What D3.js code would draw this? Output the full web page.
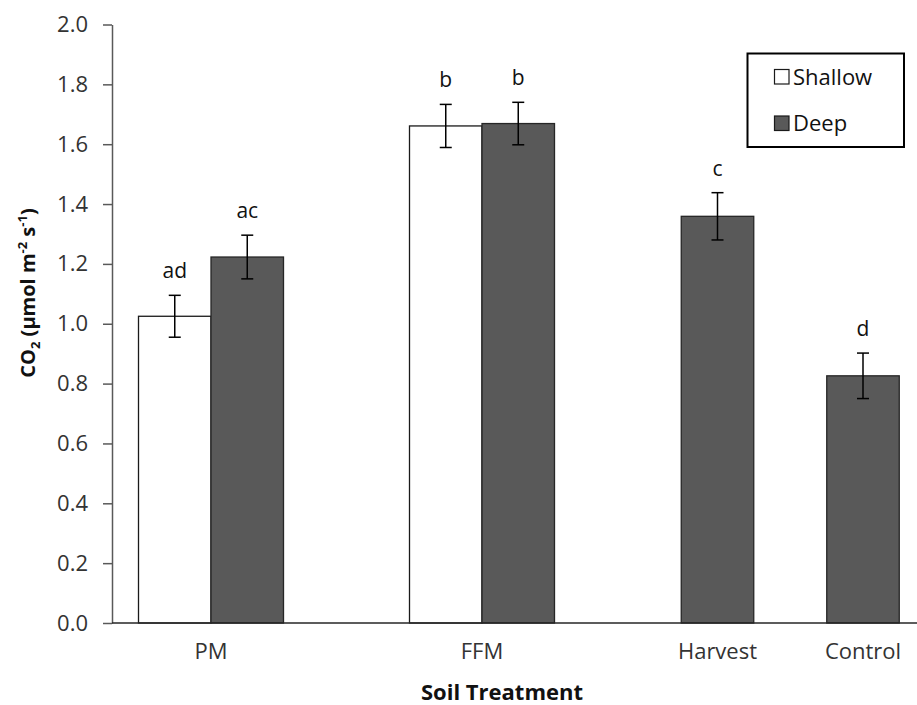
<!DOCTYPE html>
<html>
<head>
<meta charset="utf-8">
<script src="https://cdn.jsdelivr.net/npm/d3@7"></script>
<style>
  body { margin: 0; background: #fff; }
  svg { display: block; font-family: "Open Sans", Lato, sans-serif; }
</style>
</head>
<body>
<svg id="chart" width="917" height="705"></svg>
<script>
// Soil CO2 efflux by treatment and depth
const categories = ["PM", "FFM", "Harvest", "Control"];
const seriesNames = ["Shallow", "Deep"];
const shallowMean = [1.025, 1.661, null, null];
const shallowErr  = [0.070, 0.072, null, null];
const deepMean    = [1.223, 1.669, 1.359, 0.826];
const deepErr     = [0.073, 0.071, 0.079, 0.076];
const shallowLetters = ["ad", "b", null, null];
const deepLetters    = ["ac", "b", "c", "d"];
const yTicks = [0, 0.2, 0.4, 0.6, 0.8, 1.0, 1.2, 1.4, 1.6, 1.8, 2.0];

const svg = d3.select("#chart");
const axisX0 = 112, axisX1 = 917;
const barW = 72.5;
const FONT = "'Open Sans', Lato, sans-serif";

const y = d3.scaleLinear().domain([0, 2]).range([623, 24.5]);
// category centres along the baseline
const xc = d3.scaleOrdinal().domain(categories).range([211, 482, 717.5, 863]);
const fillOf = d3.scaleOrdinal().domain(seriesNames).range(["#ffffff", "#595959"]);

// build bar records
const bars = [];
categories.forEach((c, i) => {
  const hasShallow = shallowMean[i] != null;
  if (hasShallow) {
    bars.push({ cat: c, s: "Shallow", v: shallowMean[i], e: shallowErr[i], lab: shallowLetters[i], x0: xc(c) - barW });
    bars.push({ cat: c, s: "Deep", v: deepMean[i], e: deepErr[i], lab: deepLetters[i], x0: xc(c) });
  } else {
    bars.push({ cat: c, s: "Deep", v: deepMean[i], e: deepErr[i], lab: deepLetters[i], x0: xc(c) - barW / 2 });
  }
});

// bars
svg.append("g").selectAll("rect").data(bars).join("rect")
  .attr("x", d => d.x0)
  .attr("y", d => y(d.v))
  .attr("width", barW)
  .attr("height", d => y(0) - y(d.v))
  .attr("fill", d => fillOf(d.s))
  .attr("stroke", d => d.s === "Shallow" ? "#1a1a1a" : "#262626")
  .attr("stroke-width", 1.3);

// error bars
const eg = svg.append("g").attr("stroke", "#000").attr("stroke-width", 1.5);
bars.forEach(d => {
  const cx = d.x0 + barW / 2;
  eg.append("line").attr("x1", cx).attr("x2", cx).attr("y1", y(d.v + d.e)).attr("y2", y(d.v - d.e));
  eg.append("line").attr("x1", cx - 6).attr("x2", cx + 6).attr("y1", y(d.v + d.e)).attr("y2", y(d.v + d.e));
  eg.append("line").attr("x1", cx - 6).attr("x2", cx + 6).attr("y1", y(d.v - d.e)).attr("y2", y(d.v - d.e));
});

// significance letters
svg.append("g").selectAll("text").data(bars.filter(d => d.lab)).join("text")
  .attr("x", d => d.x0 + barW / 2)
  .attr("y", d => y(d.v + d.e) - 17)
  .attr("text-anchor", "middle")
  .attr("font-size", 21)
  .attr("fill", "#111")
  .text(d => d.lab);

// y axis
const yAxis = d3.axisLeft(y).tickValues(yTicks).tickFormat(d3.format(".1f"))
  .tickSizeInner(9).tickSizeOuter(0).tickPadding(15);
const ya = svg.append("g").attr("transform", `translate(${axisX0},0)`).call(yAxis);
ya.select(".domain").attr("stroke", "#595959").attr("stroke-width", 1.5);
ya.selectAll(".tick line").attr("stroke", "#595959").attr("stroke-width", 1.5);
ya.selectAll(".tick text").attr("font-size", 22).attr("fill", "#333")
  .attr("font-family", FONT);

// baseline
svg.append("line").attr("x1", axisX0).attr("x2", axisX1).attr("y1", y(0)).attr("y2", y(0))
  .attr("stroke", "#262626").attr("stroke-width", 1.5);

// category labels
svg.append("g").selectAll("text").data(categories).join("text")
  .attr("x", d => xc(d))
  .attr("y", 659)
  .attr("text-anchor", "middle")
  .attr("font-size", 22)
  .attr("fill", "#333")
  .text(d => d);

// axis titles
svg.append("text").attr("x", 502).attr("y", 700).attr("text-anchor", "middle")
  .attr("font-size", 22).attr("font-weight", "bold").attr("fill", "#111")
  .text("Soil Treatment");

const yt = svg.append("text").attr("transform", "translate(35,293) rotate(-90)")
  .attr("text-anchor", "middle").attr("font-size", 20).attr("font-weight", "bold").attr("fill", "#111");
yt.append("tspan").text("CO");
yt.append("tspan").attr("font-size", 13).attr("dy", 5).text("2");
yt.append("tspan").attr("dy", -5).text(" (µmol m");
yt.append("tspan").attr("font-size", 13).attr("dy", -8).text("-2");
yt.append("tspan").attr("dy", 8).text(" s");
yt.append("tspan").attr("font-size", 13).attr("dy", -8).text("-1");
yt.append("tspan").attr("dy", 8).text(")");

// legend
const lg = svg.append("g");
lg.append("rect").attr("x", 747.5).attr("y", 53.5).attr("width", 156.5).attr("height", 93.5)
  .attr("fill", "#fff").attr("stroke", "#000").attr("stroke-width", 2);
seriesNames.forEach((s, i) => {
  const yy = 69.5 + i * 46.5;
  lg.append("rect").attr("x", 774.5).attr("y", yy).attr("width", 14.5).attr("height", 14.5)
    .attr("fill", fillOf(s)).attr("stroke", "#1a1a1a").attr("stroke-width", 1.2);
  lg.append("text").attr("x", 793).attr("y", yy + 15).attr("font-size", 22).attr("fill", "#111").text(s);
});
</script>
</body>
</html>
